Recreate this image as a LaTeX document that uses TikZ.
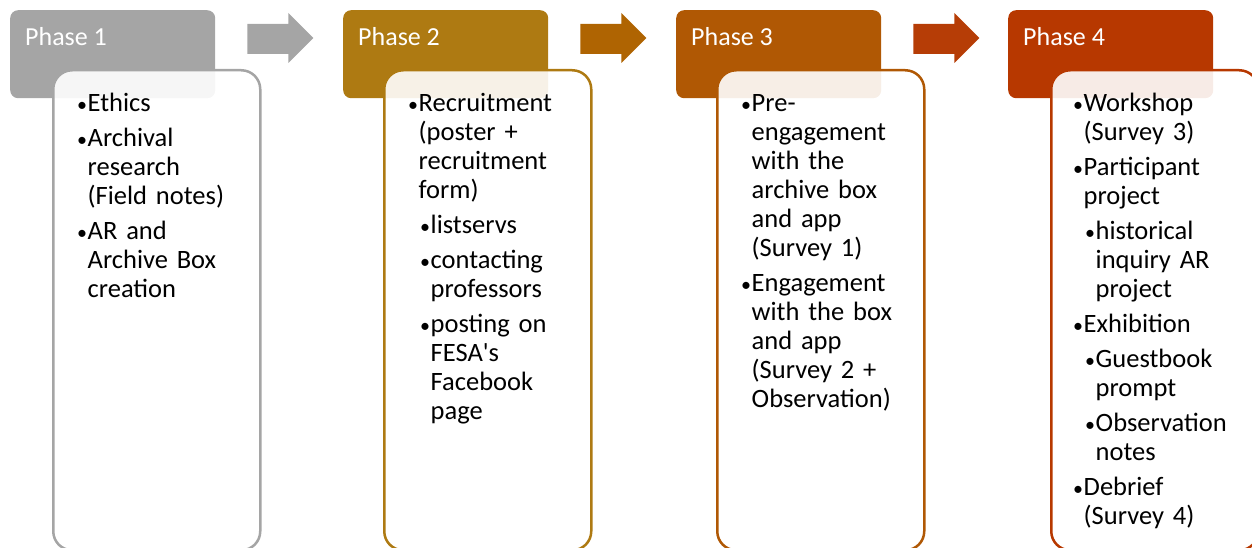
\documentclass[tikz,border=0pt]{standalone}
\usepackage{fontspec}
\setmainfont{Carlito}
\definecolor{phaseA}{HTML}{A5A5A5}
\definecolor{phaseB}{HTML}{AE7A12}
\definecolor{phaseC}{HTML}{B05804}
\definecolor{phaseD}{HTML}{B73800}
\definecolor{arrowA}{HTML}{A5A5A5}
\definecolor{arrowB}{HTML}{AF6402}
\definecolor{arrowC}{HTML}{B63D06}
% bullet mark, a little smaller than the body text
\newcommand\bulmark{\makebox[10.5pt][l]{\fontsize{20}{20}\selectfont\textbullet}}
% first-level and second-level bullet paragraphs
\newcommand\bulA[1]{{\hangindent=10.5pt\hangafter=1\noindent\strut\bulmark#1\par}}
\newcommand\bulB[1]{{\leftskip=12pt\hangindent=10.5pt\hangafter=1\noindent\strut\bulmark#1\par}}
\begin{document}
\begin{tikzpicture}[x=1pt,y=-1pt,
  header/.style={fill=#1, draw=none, rounded corners=8pt, minimum width=205pt,
    minimum height=88pt, anchor=north west, inner sep=0pt},
  card/.style={draw=#1, line width=2.5pt, fill=white, fill opacity=0.9,
    rounded corners=19pt, minimum width=207pt, minimum height=480pt,
    anchor=north west, inner sep=0pt},
  htext/.style={text=white, font=\fontsize{26}{31}\selectfont, anchor=base west, inner sep=0pt},
  btext/.style={text=black, font=\fontsize{26.5}{29}\selectfont, anchor=north west,
    inner sep=0pt, text width=200pt, align=left,
    execute at begin node={\setlength{\parskip}{6pt}\setlength{\parindent}{0pt}}},
  flow/.style={fill=#1, draw=none}
]
\useasboundingbox (0,0) rectangle (1252,548);

% phase headers
\node[header=phaseA] (h1) at (10,10) {};
\node[header=phaseB] (h2) at (343,10) {};
\node[header=phaseC] (h3) at (676,10) {};
\node[header=phaseD] (h4) at (1008,10) {};

\node[htext] (t1) at ([shift={(15,36)}]h1.north west) {Phase 1};
\node[htext] (t2) at ([shift={(15,36)}]h2.north west) {Phase 2};
\node[htext] (t3) at ([shift={(15,36)}]h3.north west) {Phase 3};
\node[htext] (t4) at ([shift={(15,36)}]h4.north west) {Phase 4};

% block arrows between headers
\foreach \a/\c in {h1/arrowA, h2/arrowB, h3/arrowC}{
  \fill[flow=\c] ([shift={(32,14)}]\a.north east) -- ++(41,0) -- ++(0,-11)
    -- ++(25,25) -- ++(-25,25) -- ++(0,-9) -- ++(-41,0) -- cycle;
}

% content cards
\node[card=phaseA] (c1) at (52,69) {};
\node[card=phaseB] (c2) at (383,69) {};
\node[card=phaseC] (c3) at (716,69) {};
\node[card=phaseD] (c4) at (1050,69) {};

% card texts
\node[btext] (b1) at ([shift={(25,22.5)}]c1.north west) {%
\bulA{Ethics}
\bulA{Archival\newline research\newline (Field notes)}
\bulA{AR and\newline Archive Box\newline creation}};

\node[btext] (b2) at ([shift={(25,22.5)}]c2.north west) {%
\bulA{Recruitment\newline (poster +\newline recruitment\newline form)}
\bulB{listservs}
\bulB{contacting\newline professors}
\bulB{posting on\newline FESA\textquotesingle s\newline Facebook\newline page}};

\node[btext] (b3) at ([shift={(25,22.5)}]c3.north west) {%
\bulA{Pre-\newline engagement\newline with the\newline archive box\newline and app\newline (Survey 1)}
\bulA{Engagement\newline with the box\newline and app\newline (Survey 2 +\newline Observation)}};

\node[btext] (b4) at ([shift={(23,22.5)}]c4.north west) {%
\bulA{Workshop\newline (Survey 3)}
\bulA{Participant\newline project}
\bulB{historical\newline inquiry AR\newline project}
\bulA{Exhibition}
\bulB{Guestbook\newline prompt}
\bulB{Observation\newline notes}
\bulA{Debrief\newline (Survey 4)}};
\end{tikzpicture}
\end{document}
